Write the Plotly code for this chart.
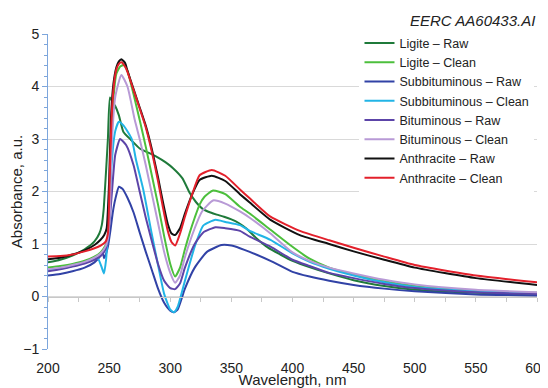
import plotly.graph_objects as go

# ---- data ----
wl_ligite_raw = [200, 210, 220, 230, 238, 242, 244, 245.5, 247, 249, 250.7, 253, 255, 258, 261.6, 268, 275, 282, 289, 296, 302.5, 310, 316, 321, 327, 333, 338, 344, 350, 356, 362, 370, 380, 390, 400, 415, 430, 450, 475, 500, 550, 600]
abs_ligite_raw = [0.65, 0.70, 0.78, 0.90, 1.05, 1.20, 1.36, 1.65, 2.2, 3.0, 3.79, 3.70, 3.63, 3.45, 3.14, 2.98, 2.82, 2.74, 2.66, 2.56, 2.44, 2.25, 1.97, 1.80, 1.66, 1.60, 1.56, 1.52, 1.47, 1.40, 1.30, 1.12, 0.93, 0.80, 0.68, 0.55, 0.44, 0.31, 0.20, 0.13, 0.07, 0.04]

wl_ligite_clean = [200, 210, 220, 230, 238, 243, 247, 249, 250.5, 252, 254, 256, 259, 262, 265, 270, 275, 280, 285, 290, 295, 300, 304, 308, 312, 316, 320, 324, 328, 335, 345, 357, 365, 382, 398, 414, 430, 450, 475, 500, 550, 600]
abs_ligite_clean = [0.55, 0.58, 0.62, 0.68, 0.76, 0.84, 0.97, 1.1, 1.6, 3.0, 3.9, 4.25, 4.38, 4.41, 4.3, 3.85, 3.36, 2.85, 2.3, 1.75, 1.15, 0.62, 0.38, 0.55, 0.9, 1.22, 1.5, 1.75, 1.9, 2.02, 1.95, 1.71, 1.58, 1.27, 0.98, 0.72, 0.55, 0.42, 0.29, 0.20, 0.11, 0.07]

wl_subbit_raw = [200, 210, 220, 230, 238, 243, 244.7, 245.8, 247, 249, 251, 253, 255, 258, 261, 265, 270, 275, 280, 285, 290, 295, 300, 303, 306, 312, 320, 330, 342, 350, 357, 365, 382, 400, 414, 430, 450, 475, 500, 550, 600]
abs_subbit_raw = [0.40, 0.43, 0.48, 0.55, 0.65, 0.78, 0.85, 0.73, 0.78, 0.95, 1.25, 1.6, 1.85, 2.09, 2.05, 1.88, 1.6, 1.22, 0.85, 0.5, 0.15, -0.12, -0.27, -0.3, -0.25, 0.15, 0.55, 0.85, 0.98, 0.97, 0.92, 0.85, 0.68, 0.47, 0.38, 0.30, 0.22, 0.15, 0.10, 0.04, 0.02]

wl_subbit_clean = [200, 210, 220, 230, 238, 241, 244, 245.8, 247.5, 249, 250.7, 252, 255, 258, 262, 268.5, 272, 278, 284.8, 290, 295, 300, 303, 306, 312, 320, 327, 337, 345, 357, 365, 382, 400, 414, 430, 450, 475, 500, 550, 600]
abs_subbit_clean = [0.50, 0.53, 0.58, 0.64, 0.73, 0.72, 0.55, 0.44, 0.7, 1.2, 1.65, 2.5, 3.15, 3.33, 3.25, 3.0, 2.6, 2.03, 1.2, 0.6, 0.05, -0.25, -0.3, -0.2, 0.3, 0.95, 1.35, 1.46, 1.42, 1.36, 1.25, 1.08, 0.82, 0.66, 0.53, 0.40, 0.27, 0.18, 0.10, 0.06]

wl_bitum_raw = [200, 210, 220, 230, 238, 243, 247, 249, 251, 253, 255, 259, 264, 270, 274.7, 280, 285, 290, 295, 300, 304, 308, 312, 320, 327, 337, 345, 357, 365, 382, 400, 414, 430, 450, 475, 500, 550, 600]
abs_bitum_raw = [0.48, 0.52, 0.57, 0.63, 0.70, 0.77, 0.9, 1.1, 1.6, 2.2, 2.7, 3.0, 2.88, 2.5, 2.03, 1.5, 1.05, 0.62, 0.3, 0.16, 0.14, 0.25, 0.55, 1.0, 1.22, 1.32, 1.3, 1.25, 1.14, 0.95, 0.7, 0.58, 0.45, 0.35, 0.24, 0.16, 0.08, 0.05]

wl_bitum_clean = [200, 210, 220, 230, 238, 243, 247, 249, 250.5, 252, 255, 260, 265, 271, 275, 280, 285, 290, 295, 300, 304, 308, 312, 320, 326, 335, 345, 357, 365, 382, 400, 414, 430, 450, 475, 500, 550, 600]
abs_bitum_clean = [0.52, 0.55, 0.60, 0.66, 0.74, 0.82, 0.95, 1.1, 1.5, 2.8, 3.8, 4.22, 4.0, 3.36, 3.0, 2.5, 1.95, 1.4, 0.85, 0.45, 0.26, 0.4, 0.75, 1.3, 1.62, 1.83, 1.77, 1.62, 1.5, 1.2, 0.84, 0.68, 0.55, 0.44, 0.32, 0.23, 0.13, 0.08]

wl_anthr_raw = [200, 210, 220, 230, 238, 243, 246, 248, 250, 251.5, 253.5, 256, 258, 260, 263, 265, 270, 275, 280, 285, 290, 294, 298, 301, 304, 308, 312, 318, 324, 334, 345, 357, 365, 382, 406, 430, 450, 475, 500, 550, 600]
abs_anthr_raw = [0.71, 0.74, 0.80, 0.88, 0.98, 1.08, 1.17, 1.3, 2.2, 3.4, 4.05, 4.37, 4.48, 4.52, 4.45, 4.3, 3.95, 3.6, 3.25, 2.8, 2.27, 1.8, 1.38, 1.2, 1.17, 1.3, 1.58, 1.95, 2.22, 2.3, 2.2, 1.95, 1.79, 1.46, 1.17, 1.0, 0.86, 0.7, 0.55, 0.35, 0.22]

wl_anthr_clean = [200, 210, 220, 230, 238, 243, 247, 249, 250.5, 252, 254, 256, 258, 260, 263, 265, 270, 275, 280, 285, 290, 294, 298, 301, 304, 308, 312, 318, 324, 334, 345, 357, 365, 382, 406, 430, 450, 475, 500, 550, 600]
abs_anthr_clean = [0.76, 0.77, 0.80, 0.86, 0.92, 0.97, 1.04, 1.2, 2.3, 3.4, 4.05, 4.33, 4.43, 4.46, 4.38, 4.28, 3.93, 3.58, 3.22, 2.75, 2.2, 1.7, 1.25, 1.04, 0.97, 1.2, 1.52, 1.95, 2.31, 2.41, 2.3, 2.04, 1.87, 1.52, 1.25, 1.07, 0.93, 0.76, 0.6, 0.4, 0.27]

series_names = ["Ligite – Raw", "Ligite – Clean", "Subbituminous – Raw", "Subbituminous – Clean",
                "Bituminous – Raw", "Bituminous – Clean", "Anthracite – Raw", "Anthracite – Clean"]
series_x = [wl_ligite_raw, wl_ligite_clean, wl_subbit_raw, wl_subbit_clean,
            wl_bitum_raw, wl_bitum_clean, wl_anthr_raw, wl_anthr_clean]
series_y = [abs_ligite_raw, abs_ligite_clean, abs_subbit_raw, abs_subbit_clean,
            abs_bitum_raw, abs_bitum_clean, abs_anthr_raw, abs_anthr_clean]
series_colors = ["#1f7a3a", "#4cbf3c", "#3142a6", "#22b4e6",
                 "#5c44a8", "#b89ad6", "#111111", "#e3202b"]

x_ticks = [200, 250, 300, 350, 400, 450, 500, 550, 600]

fig = go.Figure()
for name, xs, ys, col in zip(series_names, series_x, series_y, series_colors):
    fig.add_trace(go.Scatter(x=xs, y=ys, name=name, mode="lines",
                             line=dict(color=col, width=2, shape="spline", smoothing=0.5)))

# invisible trace to carry the axis drawn at y = 0
fig.add_trace(go.Scatter(x=[200, 600], y=[0, 0], xaxis="x2", mode="lines",
                         line=dict(width=0), showlegend=False, hoverinfo="skip"))

axis_blue = "#7da6dc"
# the page body adds an 8px offset, so the figure is sized 540x380
fig.update_layout(
    width=540, height=380,
    margin=dict(l=40, r=11, t=26, b=39),
    plot_bgcolor="white", paper_bgcolor="white",
    font=dict(family="Liberation Sans, Arial, sans-serif", size=14, color="#222222"),
    xaxis=dict(range=[200, 600], tickvals=x_ticks, showgrid=False, showline=False,
               zeroline=False, ticks="outside", ticklen=6, tickcolor="rgba(0,0,0,0)",
               tickfont=dict(size=14), automargin=False, ticklabeloverflow="allow",
               title=dict(text="Wavelength, nm", font=dict(size=15), standoff=0)),
    xaxis2=dict(overlaying="x", matches="x", anchor="free", position=1/6,
                showline=True, linecolor="#c8c8c8", linewidth=1,
                ticks="outside", tick0=200, dtick=25, ticklen=4, tickcolor="#c8c8c8",
                showticklabels=False, showgrid=False, zeroline=False, automargin=False),
    yaxis=dict(range=[-1, 5], dtick=1, showgrid=True, gridcolor="#d9d9d9", gridwidth=1,
               zeroline=False, showline=True, linecolor=axis_blue, linewidth=1,
               ticks="outside", ticklen=5, tickcolor=axis_blue,
               minor=dict(dtick=0.2, ticks="outside", ticklen=3, tickcolor=axis_blue, showgrid=False),
               tickfont=dict(size=14), automargin=False,
               title=dict(text="Absorbance, a.u.", font=dict(size=15), standoff=4)),
    legend=dict(x=0.637, y=1.018, xanchor="left", yanchor="top", bgcolor="white",
                borderwidth=0, font=dict(size=12.5), tracegroupgap=0),
    showlegend=True,
)

fig.add_annotation(text="<i>EERC AA60433.AI</i>", xref="paper", yref="paper",
                   x=1.0, y=1.044, xanchor="right", yanchor="middle", xshift=0,
                   showarrow=False, font=dict(size=15, color="#222222"))

fig.write_html("out.html")
